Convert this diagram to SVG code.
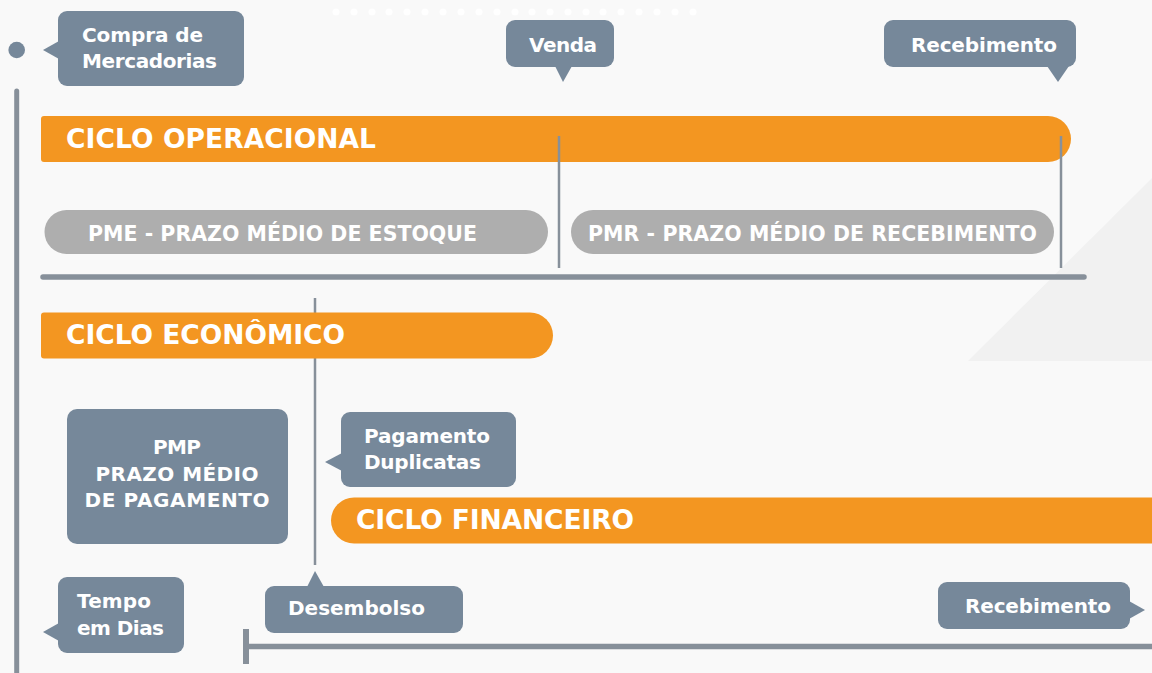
<svg xmlns="http://www.w3.org/2000/svg" width="1152" height="673" viewBox="0 0 1152 673">
<style>
.bg{fill:#f9f9f9}
.deco{fill:#f1f1f1}
.dot{fill:#ffffff}
.bub{fill:#76889a}
.bar{fill:#f39621}
.pill{fill:#aeaeae}
.ln{stroke:#87909a;fill:none}
.t{font-family:"DejaVu Sans","Liberation Sans",Arial,sans-serif;font-weight:700;fill:#ffffff}
.s{font-size:20px}
.p{font-size:20.5px}
.c{font-size:26.5px}
</style>
<rect class="bg" x="0" y="0" width="1152" height="673"/>
<polygon class="deco" points="1152,178 968,361 1152,361"/>
<g id="dots">
<circle class="dot" cx="336" cy="12" r="3.5"/><circle class="dot" cx="354" cy="12" r="3.5"/><circle class="dot" cx="372" cy="12" r="3.5"/><circle class="dot" cx="389" cy="12" r="3.5"/><circle class="dot" cx="407" cy="12" r="3.5"/><circle class="dot" cx="425" cy="12" r="3.5"/><circle class="dot" cx="443" cy="12" r="3.5"/><circle class="dot" cx="461" cy="12" r="3.5"/><circle class="dot" cx="479" cy="12" r="3.5"/><circle class="dot" cx="497" cy="12" r="3.5"/><circle class="dot" cx="515" cy="12" r="3.5"/><circle class="dot" cx="532" cy="12" r="3.5"/><circle class="dot" cx="550" cy="12" r="3.5"/><circle class="dot" cx="568" cy="12" r="3.5"/><circle class="dot" cx="586" cy="12" r="3.5"/><circle class="dot" cx="603" cy="12" r="3.5"/><circle class="dot" cx="621" cy="12" r="3.5"/><circle class="dot" cx="639" cy="12" r="3.5"/><circle class="dot" cx="657" cy="12" r="3.5"/><circle class="dot" cx="675" cy="12" r="3.5"/><circle class="dot" cx="693" cy="12" r="3.5"/>
</g>

<g id="connectors">
<line class="ln" x1="16.7" y1="91" x2="16.7" y2="680" stroke-width="5" stroke-linecap="round"/>
<line class="ln" x1="43" y1="277" x2="1084" y2="277" stroke-width="5.5" stroke-linecap="round"/>
<line class="ln" x1="315" y1="298" x2="315" y2="565" stroke-width="2.5"/>
<line class="ln" x1="246" y1="646.5" x2="1152" y2="646.5" stroke-width="5.5"/>
<line class="ln" x1="246" y1="629" x2="246" y2="664" stroke-width="6"/>
</g>

<g id="start-dot"><circle class="bub" cx="16.7" cy="50" r="8.3"/></g>

<g id="compra">
<rect class="bub" x="58" y="11" width="186" height="75" rx="9"/>
<polygon class="bub" points="59,41 43,50 59,59"/>
<text class="t s" x="82" y="42" textLength="121">Compra de</text>
<text class="t s" x="82" y="68" textLength="135">Mercadorias</text>
</g>

<g id="venda">
<rect class="bub" x="506" y="20" width="108" height="47" rx="9"/>
<polygon class="bub" points="555,66 563,82 572,66"/>
<text class="t s" x="529" y="52" textLength="68">Venda</text>
</g>

<g id="recebimento-top">
<rect class="bub" x="884" y="20" width="192" height="47" rx="9"/>
<polygon class="bub" points="1047,66 1058,82 1069,66"/>
<text class="t s" x="911" y="52" textLength="146">Recebimento</text>
</g>

<g id="ciclo-operacional">
<path class="bar" d="M44,116 H1048 A23,23 0 0 1 1048,162 H44 A3,3 0 0 1 41,159 V119 A3,3 0 0 1 44,116 Z"/>
<text class="t c" x="66" y="148" textLength="310">CICLO OPERACIONAL</text>
</g>

<g id="marks-op">
<line class="ln" x1="559" y1="136" x2="559" y2="268" stroke-width="2.5"/>
<line class="ln" x1="1061" y1="136" x2="1061" y2="268" stroke-width="2.5"/>
</g>

<g id="pme">
<rect class="pill" x="44.5" y="210" width="503.5" height="44" rx="22"/>
<text class="t p" x="88" y="241" textLength="389">PME - PRAZO MÉDIO DE ESTOQUE</text>
</g>

<g id="pmr">
<rect class="pill" x="571" y="210" width="483" height="44" rx="22"/>
<text class="t p" x="588" y="241" textLength="449">PMR - PRAZO MÉDIO DE RECEBIMENTO</text>
</g>

<g id="ciclo-economico">
<path class="bar" d="M44,312.5 H530 A23,23 0 0 1 530,358.5 H44 A3,3 0 0 1 41,355.5 V315.5 A3,3 0 0 1 44,312.5 Z"/>
<text class="t c" x="66" y="344" textLength="279">CICLO ECONÔMICO</text>
</g>

<g id="pmp">
<rect class="bub" x="67" y="409" width="221" height="135" rx="10"/>
<text class="t s" x="177" y="454" text-anchor="middle" textLength="48">PMP</text>
<text class="t s" x="177" y="481" text-anchor="middle" textLength="163">PRAZO MÉDIO</text>
<text class="t s" x="177" y="507" text-anchor="middle" textLength="185">DE PAGAMENTO</text>
</g>

<g id="pagamento">
<rect class="bub" x="341" y="412" width="175" height="75" rx="9"/>
<polygon class="bub" points="342,453 325,462 342,471"/>
<text class="t s" x="364" y="443" textLength="126">Pagamento</text>
<text class="t s" x="364" y="469" textLength="117">Duplicatas</text>
</g>

<g id="ciclo-financeiro">
<path class="bar" d="M354,497.5 H1160 V543.5 H354 A23,23 0 0 1 354,497.5 Z"/>
<text class="t c" x="356" y="529" textLength="278">CICLO FINANCEIRO</text>
</g>

<g id="tempo">
<rect class="bub" x="58" y="577" width="126" height="76" rx="9"/>
<polygon class="bub" points="59,623 43,632 59,641"/>
<text class="t s" x="77" y="608" textLength="74">Tempo</text>
<text class="t s" x="77" y="635" textLength="87">em Dias</text>
</g>

<g id="desembolso">
<rect class="bub" x="265" y="586" width="198" height="47" rx="9"/>
<polygon class="bub" points="307,587 315,571 324,587"/>
<text class="t s" x="288" y="615" textLength="137">Desembolso</text>
</g>

<g id="recebimento-bottom">
<rect class="bub" x="938" y="582" width="192" height="47" rx="9"/>
<polygon class="bub" points="1129,601 1145,610 1129,619"/>
<text class="t s" x="965" y="613" textLength="146">Recebimento</text>
</g>
</svg>
